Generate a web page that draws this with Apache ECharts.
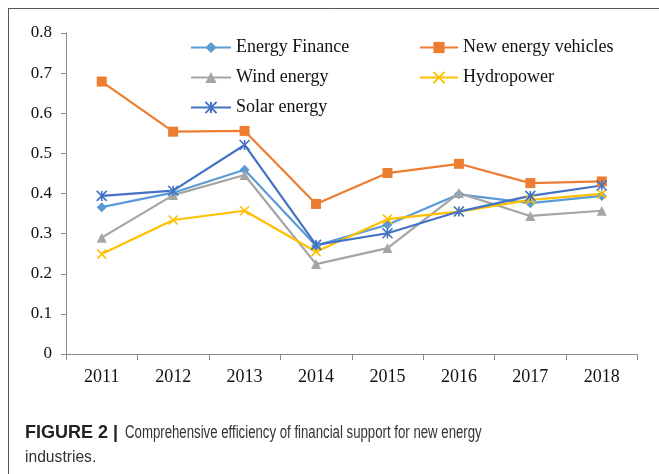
<!DOCTYPE html>
<html>
<head>
<meta charset="utf-8">
<script src="https://cdn.jsdelivr.net/npm/echarts@6/dist/echarts.min.js"></script>
<style>
html,body{margin:0;padding:0;background:#fff;}
#chart{width:659px;height:474px;}
</style>
</head>
<body>
<div id="chart"></div>
<script>
const years = ['2011','2012','2013','2014','2015','2016','2017','2018'];
const energyFinance = [0.366, 0.402, 0.459, 0.270, 0.322, 0.398, 0.376, 0.394];
const newEnergyVehicles = [0.679, 0.554, 0.556, 0.374, 0.451, 0.474, 0.426, 0.430];
const windEnergy = [0.290, 0.396, 0.446, 0.224, 0.264, 0.401, 0.344, 0.357];
const hydropower = [0.249, 0.334, 0.357, 0.255, 0.336, 0.355, 0.384, 0.399];
const solarEnergy = [0.394, 0.407, 0.521, 0.272, 0.301, 0.355, 0.394, 0.420];
const yTicks = ['0', '0.1', '0.2', '0.3', '0.4', '0.5', '0.6', '0.7', '0.8'];

const serif = "'Liberation Serif', 'Times New Roman', serif";
const sans = "'Liberation Sans', Arial, sans-serif";
const xPath = 'path://M0 0L10 10M10 0L0 10';
const starPath = 'path://M0 0L10 10M10 0L0 10M5 0L5 10';

function mk(name, data, color, symbol, size, stroke) {
  return {
    name: name, type: 'line', data: data, symbol: symbol, symbolSize: size,
    lineStyle: {color: color, width: 2.2},
    itemStyle: stroke ? {color: 'rgba(0,0,0,0)', borderColor: color, borderWidth: 1.6} : {color: color, borderColor: color, borderWidth: 0},
    emphasis: {disabled: true},
    z: 3
  };
}

const chart = echarts.init(document.getElementById('chart'), null, {renderer: 'canvas'});
chart.setOption({
  animation: false,
  backgroundColor: '#fff',
  grid: {left: 66, right: 21.5, top: 33, bottom: 120, containLabel: false},
  legend: [
    {data: ['Energy Finance', 'Wind energy', 'Solar energy'], orient: 'vertical', left: 190, top: 38.5,
     padding: 0, itemWidth: 40, itemHeight: 14, itemGap: 12,
     textStyle: {fontFamily: serif, fontSize: 18, color: '#111'}},
    {data: ['New energy vehicles', 'Hydropower'], orient: 'vertical', left: 419, top: 38.5,
     padding: 0, itemWidth: 38, itemHeight: 14, itemGap: 12,
     textStyle: {fontFamily: serif, fontSize: 18, color: '#111'}}
  ],
  xAxis: {
    type: 'category', data: years, boundaryGap: true,
    axisLine: {lineStyle: {color: '#8c8c8c', width: 1}},
    axisTick: {show: true, inside: false, length: 6, alignWithLabel: false, lineStyle: {color: '#8c8c8c'}},
    axisLabel: {fontFamily: serif, fontSize: 18, color: '#111', margin: 14},
    splitLine: {show: false}
  },
  yAxis: {
    type: 'value', min: 0, max: 0.8, interval: 0.1,
    axisLine: {show: true, lineStyle: {color: '#8c8c8c', width: 1}},
    axisTick: {show: true, inside: false, length: 5, lineStyle: {color: '#8c8c8c'}},
    axisLabel: {fontFamily: serif, fontSize: 17, color: '#111', margin: 14,
      formatter: function (v) { return yTicks[Math.round(v * 10)]; }},
    splitLine: {show: false}
  },
  series: [
    mk('Energy Finance', energyFinance, '#5B9BD5', 'diamond', 10, false),
    mk('New energy vehicles', newEnergyVehicles, '#ED7D31', 'rect', 10, false),
    mk('Wind energy', windEnergy, '#A5A5A5', 'triangle', 10, false),
    mk('Hydropower', hydropower, '#FFC000', xPath, 9, true),
    mk('Solar energy', solarEnergy, '#4472C4', starPath, 10, true)
  ],
  graphic: [
    {type: 'line', shape: {x1: 8, y1: 8.5, x2: 659, y2: 8.5}, style: {stroke: '#555', lineWidth: 1}},
    {type: 'line', shape: {x1: 8.5, y1: 8, x2: 8.5, y2: 474}, style: {stroke: '#555', lineWidth: 1}},
    {type: 'text', x: 25, y: 424, style: {
      text: 'FIGURE 2 |', fontFamily: sans, fontWeight: 'bold', fontSize: 18, fill: '#222'
    }},
    {type: 'group', x: 125, y: 424, scaleX: 0.755, scaleY: 1, children: [
      {type: 'text', x: 0, y: 0, style: {
        text: 'Comprehensive efficiency of financial support for new energy',
        fontFamily: sans, fontSize: 17.5, fill: '#333'
      }}
    ]},
    {type: 'group', x: 25, y: 448.5, scaleX: 0.92, scaleY: 1, children: [
      {type: 'text', x: 0, y: 0, style: {
        text: 'industries.', fontFamily: sans, fontSize: 17, fill: '#333'
      }}
    ]}
  ]
});
</script>
</body>
</html>
